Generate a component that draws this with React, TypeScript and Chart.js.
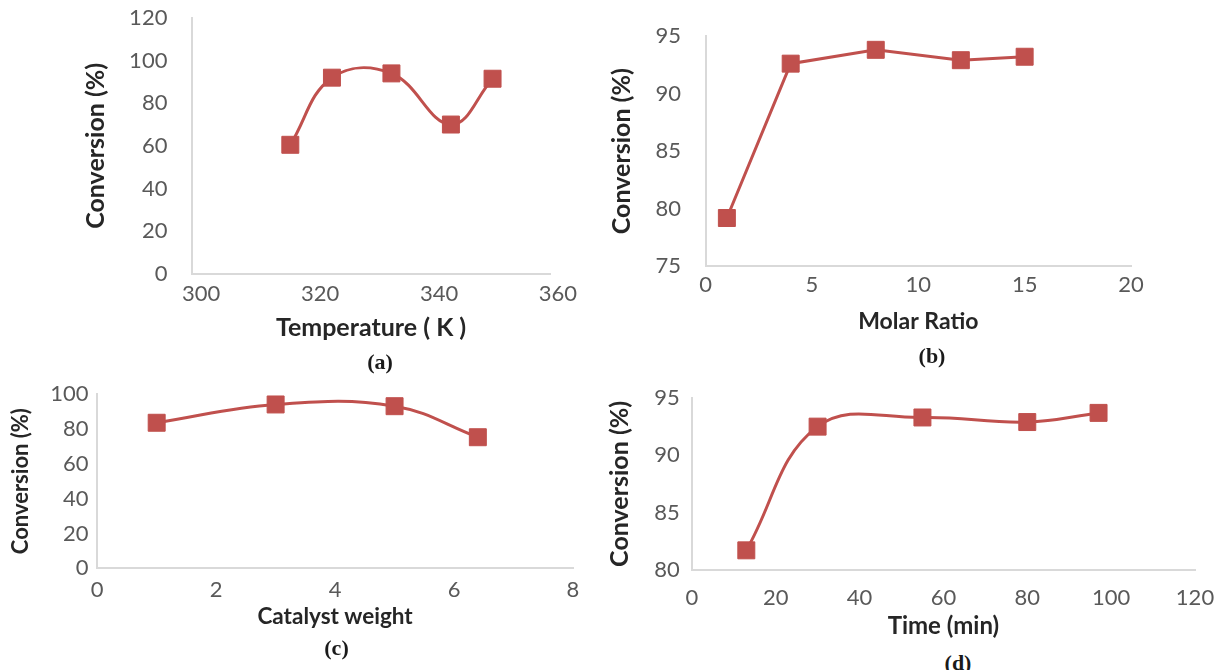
import React, { useEffect, useRef } from "react";
import { Chart, registerables } from "chart.js";

Chart.register(...registerables);

// ---------- data ----------
const temperatureK = [315, 322, 332, 342, 349];
const conversionA = [60.5, 92, 94, 70, 91.5];

const molarRatio = [1, 4, 8, 12, 15];
const conversionB = [79.2, 92.6, 93.8, 92.9, 93.2];

const catalystWeight = [1, 3, 5, 6.4];
const conversionC = [83.5, 94, 93, 75.2];

const timeMin = [13, 30, 55, 80, 97];
const conversionD = [81.7, 92.5, 93.3, 92.9, 93.7];

const ticksXA = [300, 320, 340, 360];
const ticksYA = [0, 20, 40, 60, 80, 100, 120];
const ticksXB = [0, 5, 10, 15, 20];
const ticksYB = [75, 80, 85, 90, 95];
const ticksXC = [0, 2, 4, 6, 8];
const ticksYC = [0, 20, 40, 60, 80, 100];
const ticksXD = [0, 20, 40, 60, 80, 100, 120];
const ticksYD = [80, 85, 90, 95];

const yAxisTitle = "Conversion (%)";
const xAxisTitles = ["Temperature ( K )", "Molar Ratio", "Catalyst weight", "Time (min)"];
const panelLabels = ["(a)", "(b)", "(c)", "(d)"];

// ---------- layout / style (page coordinates) ----------
const LINE_COLOR = "#c0504d";
const TICK_COLOR = "#595959";
const TITLE_COLOR = "#262626";
const AXIS_COLOR = "#d9d9d9";
const FONT = "Lato";

type Layout = {
  L: number; R: number; T: number; B: number;
  // axis ends expressed as a shift (in px) of the first/last tick from the axis line ends
  startShift: number; endShift: number;
  yTickRight: number; xTickY: number; yTitleX: number; xTitleY: number;
  tickSize: number; yTitleSize: number; xTitleSize: number;
  labelX: number; labelY: number; tension: number;
};

const layouts: Layout[] = [
  { L: 191.7, R: 550, T: 18, B: 274, startShift: 9, endShift: 8, yTickRight: 167, xTickY: 294, yTitleX: 95.6, xTitleY: 328.3,
    tickSize: 22, yTitleSize: 25, xTitleSize: 25, labelX: 380, labelY: 361.5, tension: 0.4 },
  { L: 705.5, R: 1131, T: 36, B: 266.7, startShift: 0, endShift: 0, yTickRight: 681, xTickY: 285, yTitleX: 621.9, xTitleY: 322.3,
    tickSize: 22, yTitleSize: 25, xTitleSize: 23, labelX: 932, labelY: 356, tension: 0 },
  { L: 97, R: 573, T: 394, B: 568, startShift: 0, endShift: 0, yTickRight: 88.3, xTickY: 590, yTitleX: 20.8, xTitleY: 616.7,
    tickSize: 22, yTitleSize: 22, xTitleSize: 22.5, labelX: 336.5, labelY: 647.5, tension: 0.4 },
  { L: 691.7, R: 1195, T: 398.3, B: 570.5, startShift: 0, endShift: 0, yTickRight: 679.7, xTickY: 598.3, yTitleX: 619.9, xTitleY: 626.7,
    tickSize: 22, yTitleSize: 25, xTitleSize: 24, labelX: 958, labelY: 663, tension: 0.4 },
];

const TITLE_OFF = 20;
const TOP_PAD = 45;
const RIGHT_PAD = 45;
const BOTTOM_OFF = 20;

type PanelProps = {
  xs: number[]; ys: number[]; ticksX: number[]; ticksY: number[];
  xTitle: string; layout: Layout;
};

function Panel({ xs, ys, ticksX, ticksY, xTitle, layout }: PanelProps) {
  const ref = useRef<HTMLCanvasElement | null>(null);
  const cLeft = layout.yTitleX - TITLE_OFF;
  const cTop = layout.T - TOP_PAD;
  const cRight = layout.R + RIGHT_PAD;
  const cBottom = layout.xTitleY + BOTTOM_OFF;
  const width = Math.round(cRight - cLeft);
  const height = Math.round(cBottom - cTop);

  useEffect(() => {
    if (!ref.current) return;
    const tickLH = layout.tickSize * 1.2;
    const yLH = layout.yTitleSize * 1.2;
    const xLH = layout.xTitleSize * 1.2;
    const yWidth = layout.L - cLeft;
    const xHeight = cBottom - layout.B;

    // axis range: first/last tick may sit a few px inside/outside the axis line
    const x0 = ticksX[0];
    const x1 = ticksX[ticksX.length - 1];
    const firstPx = layout.L + layout.startShift;
    const lastPx = layout.R + layout.endShift;
    const perPx = (x1 - x0) / (lastPx - firstPx);
    const xMin = x0 - layout.startShift * perPx;
    const xMax = x1 - layout.endShift * perPx;

    const chart = new Chart(ref.current, {
      type: "line",
      data: {
        datasets: [
          {
            data: xs.map((x, i) => ({ x, y: ys[i] })),
            borderColor: LINE_COLOR,
            backgroundColor: LINE_COLOR,
            borderWidth: 3,
            tension: layout.tension,
            pointStyle: "rect",
            pointRadius: 12,
            pointHoverRadius: 12,
            pointBackgroundColor: LINE_COLOR,
            pointBorderColor: LINE_COLOR,
            pointBorderWidth: 1,
            clip: false as any,
          },
        ],
      },
      options: {
        responsive: false,
        animation: false,
        events: [],
        layout: { padding: { top: TOP_PAD, right: RIGHT_PAD, left: 0, bottom: 0 } },
        plugins: { legend: { display: false }, tooltip: { enabled: false } },
        scales: {
          x: {
            type: "linear",
            min: xMin,
            max: xMax,
            grid: { display: false, drawTicks: false },
            border: { display: true, color: AXIS_COLOR, width: 2 },
            ticks: {
              autoSkip: false,
              maxRotation: 0,
              padding: layout.xTickY - layout.B - tickLH / 2,
              color: TICK_COLOR,
              font: { family: FONT, size: layout.tickSize },
            },
            afterBuildTicks: (s: any) => {
              s.ticks = ticksX.map((v) => ({ value: v }));
            },
            afterFit: (s: any) => {
              s.height = xHeight;
            },
            title: {
              display: true,
              text: xTitle,
              color: TITLE_COLOR,
              font: { family: FONT, size: layout.xTitleSize, weight: "bold" },
              padding: { top: 0, bottom: BOTTOM_OFF - xLH / 2 },
            },
          },
          y: {
            type: "linear",
            min: ticksY[0],
            max: ticksY[ticksY.length - 1],
            grid: { display: false, drawTicks: false },
            border: { display: true, color: AXIS_COLOR, width: 2 },
            ticks: {
              autoSkip: false,
              padding: layout.L - layout.yTickRight,
              color: TICK_COLOR,
              font: { family: FONT, size: layout.tickSize },
            },
            afterBuildTicks: (s: any) => {
              s.ticks = ticksY.map((v) => ({ value: v }));
            },
            afterFit: (s: any) => {
              s.width = yWidth;
            },
            title: {
              display: true,
              text: yAxisTitle,
              color: TITLE_COLOR,
              font: { family: FONT, size: layout.yTitleSize, weight: "bold" },
              padding: { top: TITLE_OFF - yLH / 2, bottom: 0 },
            },
          },
        },
      },
    });
    return () => chart.destroy();
  }, []);

  return (
    <canvas
      ref={ref}
      width={width}
      height={height}
      style={{ position: "absolute", left: cLeft, top: cTop, width, height }}
    />
  );
}

export default function App() {
  const panels = [
    { xs: temperatureK, ys: conversionA, tx: ticksXA, ty: ticksYA },
    { xs: molarRatio, ys: conversionB, tx: ticksXB, ty: ticksYB },
    { xs: catalystWeight, ys: conversionC, tx: ticksXC, ty: ticksYC },
    { xs: timeMin, ys: conversionD, tx: ticksXD, ty: ticksYD },
  ];
  return (
    <div
      style={{
        position: "absolute",
        left: 0,
        top: 0,
        width: 1225,
        height: 670,
        background: "#ffffff",
        overflow: "hidden",
      }}
    >
      {panels.map((p, i) => (
        <Panel
          key={i}
          xs={p.xs}
          ys={p.ys}
          ticksX={p.tx}
          ticksY={p.ty}
          xTitle={xAxisTitles[i]}
          layout={layouts[i]}
        />
      ))}
      {panelLabels.map((t, i) => (
        <div
          key={"l" + i}
          style={{
            position: "absolute",
            left: layouts[i].labelX,
            top: layouts[i].labelY,
            transform: "translate(-50%, -50%)",
            fontFamily: "'Liberation Serif', 'Times New Roman', serif",
            fontWeight: "bold",
            fontSize: 22,
            lineHeight: 1,
            color: "#1a1a1a",
            whiteSpace: "nowrap",
          }}
        >
          {t}
        </div>
      ))}
    </div>
  );
}
